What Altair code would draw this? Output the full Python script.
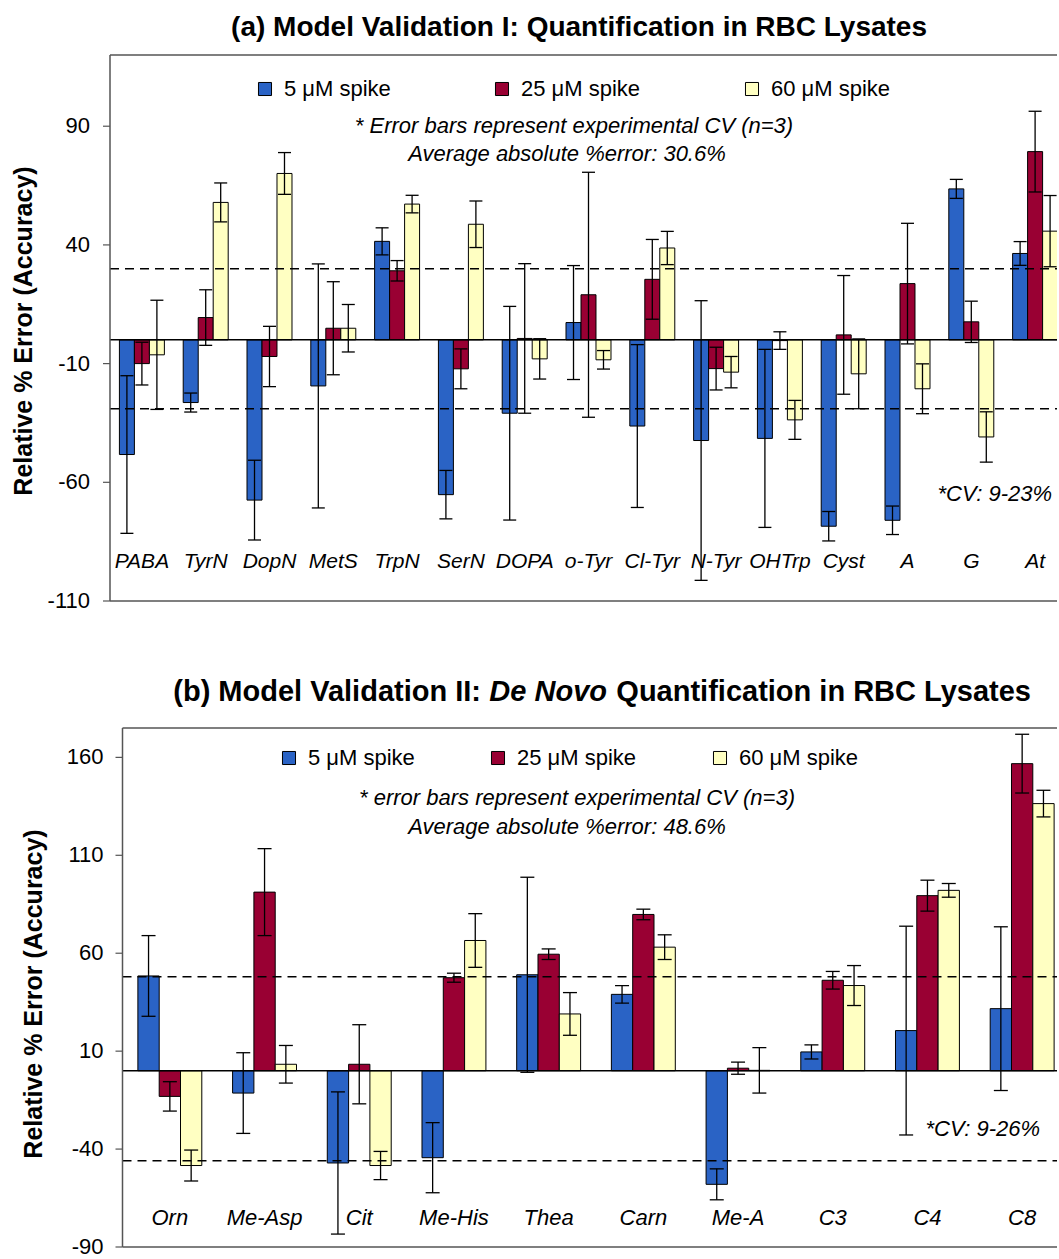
import altair as alt
import pandas as pd

FONT = "Liberation Sans"

series = ["5 μM spike", "25 μM spike", "60 μM spike"]
colors = ["#2a63c5", "#990033", "#ffffc2"]
y_title = "Relative % Error (Accuracy)"

# ---------------- panel (a) ----------------
cats_a = ["PABA", "TyrN", "DopN", "MetS", "TrpN", "SerN", "DOPA", "o-Tyr",
          "Cl-Tyr", "N-Tyr", "OHTrp", "Cyst", "A", "G", "At"]
a_5 = [-48.3, -26.4, -67.5, -19.4, 41.5, -65.2, -30.9, 7.3, -36.3, -42.4, -41.5, -78.5, -76.0, 63.6, 36.4]
a_5_err = [33.2, 4.0, 16.8, 51.4, 5.7, 10.2, 45.0, 24.0, 34.3, 58.9, 37.5, 6.2, 6.0, 4.0, 5.0]
a_25 = [-10.0, 9.4, -7.0, 4.9, 29.1, -12.2, 0.6, 19.0, 25.5, -12.1, -0.3, 2.1, 23.7, 7.6, 79.3]
a_25_err = [9.0, 11.7, 12.7, 19.6, 4.3, 8.4, 31.5, 51.6, 16.8, 9.0, 3.7, 25.0, 25.4, 8.7, 17.0]
a_60 = [-6.3, 57.9, 70.1, 4.9, 57.2, 48.7, -8.0, -8.4, 38.7, -13.6, -33.7, -14.3, -20.6, -40.9, 45.8]
a_60_err = [23.0, 8.2, 8.8, 10.0, 3.7, 9.8, 8.5, 3.9, 7.0, 6.6, 8.2, 14.7, 10.5, 10.6, 15.0]
a_ticks = [-110, -60, -10, 40, 90]
a_dash = [30.0, -29.0]

# ---------------- panel (b) ----------------
cats_b = ["Orn", "Me-Asp", "Cit", "Me-His", "Thea", "Carn", "Me-A", "C3", "C4", "C8"]
b_5 = [48.4, -11.4, -47.1, -44.4, 49.0, 39.0, -58.0, 9.6, 20.5, 31.7]
b_5_err = [20.6, 20.6, 36.3, 17.9, 49.8, 4.5, 7.9, 3.6, 53.3, 41.8]
b_25 = [-13.1, 91.2, 3.3, 47.5, 59.5, 79.8, 1.3, 46.2, 89.4, 156.8]
b_25_err = [7.5, 22.2, 20.2, 2.3, 2.7, 2.7, 3.1, 4.5, 7.9, 15.0]
b_60 = [-48.4, 3.3, -48.4, 66.5, 29.0, 63.1, 0.2, 43.5, 92.1, 136.4]
b_60_err = [7.9, 9.6, 7.2, 13.7, 10.9, 6.3, 11.6, 10.2, 3.5, 6.8]
b_ticks = [-90, -40, 10, 60, 110, 160]
b_dash = [48.0, -46.0]


def long_df(cats, vals, errs, bw):
    rows = []
    for i, c in enumerate(cats):
        for k, s in enumerate(series):
            v = vals[k][i]
            e = errs[k][i]
            pos = i + 0.5 + (k - 1) * bw
            rows.append(dict(cat=c, series=s, value=v, lo=v - e, hi=v + e,
                             pos=pos, x0=pos - bw / 2, x1=pos + bw / 2))
    return pd.DataFrame(rows)


def panel(cats, vals, errs, bw, ydom, yticks, dash, W, H, group_px, left_px,
          label_pad, title_x, title_y, cap, leg_x, leg_y, col_pad,
          label_val, label_size, title_size, title_parts, ann1, ann2, cv):
    df = long_df(cats, vals, errs, bw)
    d0 = -left_px / group_px
    xs = alt.Scale(domain=[d0, d0 + W / group_px], nice=False, zero=False)
    ys = alt.Scale(domain=ydom, nice=False, zero=False)

    bars = alt.Chart(df).mark_bar(stroke="black", strokeWidth=1, clip=True).encode(
        x=alt.X("x0:Q", scale=xs, axis=None),
        x2="x1:Q",
        y=alt.Y("value:Q", scale=ys, axis=None),
        y2=alt.datum(0),
        color=alt.Color("series:N", scale=alt.Scale(domain=series, range=colors),
                        legend=alt.Legend(orient="none", legendX=leg_x, legendY=leg_y,
                                          direction="horizontal", columns=3, title=None,
                                          labelFont=FONT, labelFontSize=22,
                                          labelColor="black", symbolType="square",
                                          symbolSize=170, symbolStrokeColor="black",
                                          symbolStrokeWidth=1, labelOffset=8,
                                          columnPadding=col_pad, padding=0,
                                          symbolOpacity=1)),
    )

    err = alt.Chart(df).mark_rule(color="black", strokeWidth=1.3, clip=True).encode(
        x=alt.X("pos:Q", scale=xs, axis=None),
        y=alt.Y("lo:Q", scale=ys, axis=None),
        y2="hi:Q",
    )
    cap_lo = alt.Chart(df).mark_tick(orient="horizontal", size=cap, thickness=1.3,
                                     color="black", opacity=1, clip=True).encode(
        x=alt.X("pos:Q", scale=xs, axis=None),
        y=alt.Y("lo:Q", scale=ys, axis=None),
    )
    cap_hi = alt.Chart(df).mark_tick(orient="horizontal", size=cap, thickness=1.3,
                                     color="black", opacity=1, clip=True).encode(
        x=alt.X("pos:Q", scale=xs, axis=None),
        y=alt.Y("hi:Q", scale=ys, axis=None),
    )

    zero = alt.Chart(pd.DataFrame({"y": [0]})).mark_rule(color="black", strokeWidth=1.5).encode(
        y=alt.Y("y:Q", scale=ys, axis=None), x=alt.value(left_px), x2=alt.value(W))
    dashed = alt.Chart(pd.DataFrame({"y": dash})).mark_rule(
        color="black", strokeWidth=1.5, strokeDash=[9, 6]).encode(
        y=alt.Y("y:Q", scale=ys, axis=None), x=alt.value(left_px), x2=alt.value(W))

    frame_df = pd.DataFrame({"k": [0]})
    top = alt.Chart(frame_df).mark_rule(color="#555", strokeWidth=1.5).encode(
        x=alt.value(left_px), x2=alt.value(W), y=alt.value(0))
    bottom = alt.Chart(frame_df).mark_rule(color="#555", strokeWidth=1.5).encode(
        x=alt.value(left_px), x2=alt.value(W), y=alt.value(H))
    # y axis (domain line, ticks, labels, title) drawn through the y scale
    domain = alt.Chart(frame_df).mark_rule(color="#555", strokeWidth=1.5).encode(
        x=alt.value(left_px), y=alt.value(0), y2=alt.value(H))
    tick_df = pd.DataFrame({"v": yticks, "lab": [str(t) for t in yticks]})
    ticks = alt.Chart(tick_df).mark_rule(color="#555", strokeWidth=1.2).encode(
        y=alt.Y("v:Q", scale=ys, axis=None),
        x=alt.value(left_px - 7), x2=alt.value(left_px))
    tick_labels = alt.Chart(tick_df).mark_text(
        font=FONT, fontSize=22, color="black", align="right", baseline="middle").encode(
        y=alt.Y("v:Q", scale=ys, axis=None),
        x=alt.value(left_px - 7 - label_pad), text="lab:N")
    ytitle = alt.Chart(pd.DataFrame({"t": [y_title]})).mark_text(
        font=FONT, fontSize=25, fontWeight="bold", color="black", angle=270,
        align="center", baseline="middle").encode(
        text="t:N", x=alt.value(title_x), y=alt.value(title_y))

    cat_df = pd.DataFrame({"cat": cats, "pos": [i + 0.5 for i in range(len(cats))],
                           "ly": [label_val] * len(cats)})
    labels = alt.Chart(cat_df).mark_text(font=FONT, fontSize=label_size,
                                         fontStyle="italic", color="black",
                                         baseline="middle").encode(
        x=alt.X("pos:Q", scale=xs, axis=None),
        y=alt.Y("ly:Q", scale=ys, axis=None),
        text="cat:N")

    layers = [bars, zero, dashed, err, cap_lo, cap_hi, top, bottom, domain,
              ticks, tick_labels, ytitle, labels]

    for txt, x, y, style, align in title_parts:
        layers.append(alt.Chart(pd.DataFrame({"t": [txt]})).mark_text(
            font=FONT, fontSize=title_size, fontWeight="bold", fontStyle=style,
            align=align, baseline="middle", color="black").encode(
            text="t:N", x=alt.value(x), y=alt.value(y)))

    for txt, x, y, align in [ann1, ann2, cv]:
        layers.append(alt.Chart(pd.DataFrame({"t": [txt]})).mark_text(
            font=FONT, fontSize=22, fontStyle="italic", align=align,
            baseline="middle", color="black").encode(
            text="t:N", x=alt.value(x), y=alt.value(y)))

    return alt.layer(*layers).properties(width=W, height=H)


W = 947
HA = 546
HB = 519

pa = panel(cats_a, [a_5, a_25, a_60], [a_5_err, a_25_err, a_60_err], 0.235,
           [-110, 120], a_ticks, a_dash, W, HA, 63.8, 0.0,
           13, -86, 276, 13, 144, 23, 100, -93.5, 21, 28,
           [("(a) Model Validation I: Quantification in RBC Lysates", 817, -27, "normal", "right")],
           ("* Error bars represent experimental CV (n=3)", 464, 71, "center"),
           ("Average absolute %error: 30.6%", 457, 99, "center"),
           ("*CV: 9-23%", 942, 439, "right"))

pb = panel(cats_b, [b_5, b_25, b_60], [b_5_err, b_25_err, b_60_err], 0.225,
           [-90, 175], b_ticks, b_dash, W, HB, 94.7, 12.5,
           12, -76, 266, 14, 168, 19, 72, -75.2, 22, 29,
           [("(b) Model Validation II:", 371, -36, "normal", "right"),
            ("De Novo", 497, -36, "italic", "right"),
            ("Quantification in RBC Lysates", 921, -36, "normal", "right")],
           ("* error bars represent experimental CV (n=3)", 467, 70, "center"),
           ("Average absolute %error: 48.6%", 457, 99, "center"),
           ("*CV: 9-26%", 930, 401, "right"))

chart = alt.vconcat(pa, pb, spacing=127, bounds="flush").resolve_scale(
    color="independent", x="independent", y="independent"
).resolve_legend(color="independent").properties(
    padding={"left": 12, "top": 14, "right": 0, "bottom": 0},
    background="white",
).configure_view(stroke=None)

chart.save("out.html", embed_options={"renderer": "svg", "actions": False})
